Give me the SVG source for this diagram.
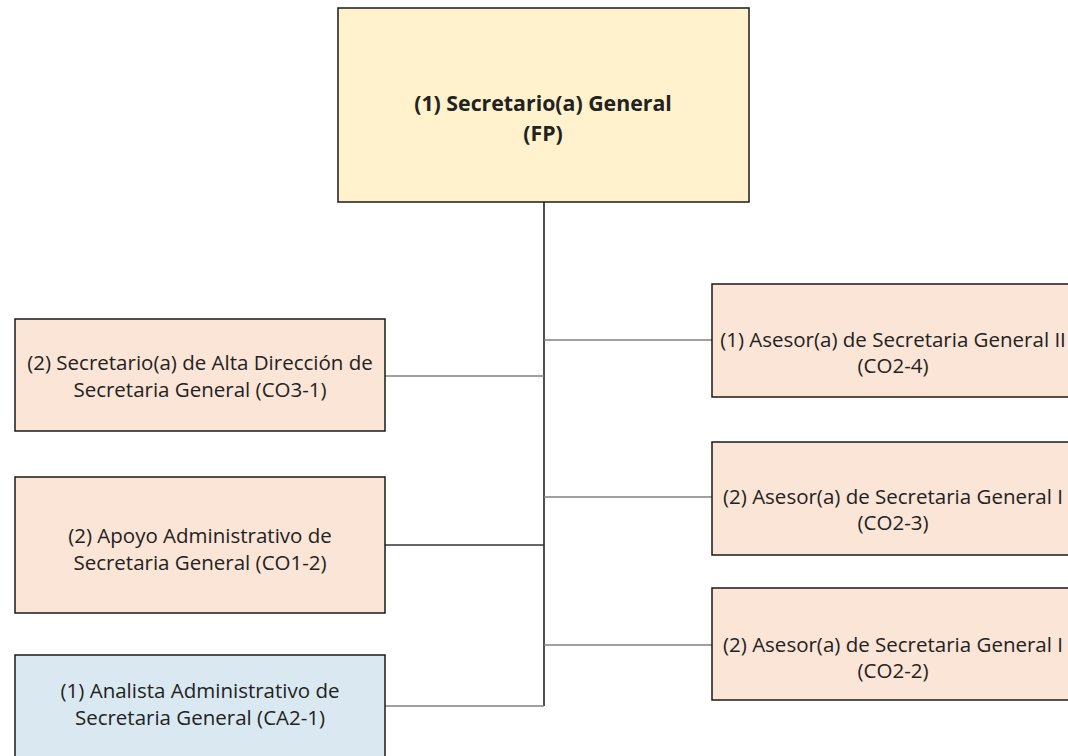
<svg xmlns="http://www.w3.org/2000/svg" width="1068" height="756" viewBox="0 0 1068 756">
<style>
.box{stroke:#1a1a1a;stroke-width:1.5}
.top{fill:#FFF2CC}
.peach{fill:#FBE5D6}
.blue{fill:#DAE9F1}
.t{font-family:"Open Sans","Liberation Sans",sans-serif;font-size:20.5px;fill:#222;text-anchor:middle}
.b{font-weight:bold;font-size:21.3px}
.trunk{stroke:#222;stroke-width:1.6;fill:none}
.conn{stroke:#808080;stroke-width:1.5;fill:none}
</style>
<rect width="1068" height="756" fill="#fff"/>
<g id="connectors">
<path class="trunk" d="M544 202 V706 H544"/>
<path class="conn" d="M385 376 H544"/>
<path class="conn" style="stroke:#333" d="M385 545 H544"/>
<path class="conn" d="M385 706 H544"/>
<path class="conn" d="M544 340 H712"/>
<path class="conn" d="M544 497 H712"/>
<path class="conn" d="M544 645 H712"/>
</g>
<g id="n-top">
<rect class="box top" x="338" y="8" width="411" height="194"/>
<text class="t b" x="543" y="111">(1) Secretario(a) General</text>
<text class="t b" x="543" y="141">(FP)</text>
</g>
<g id="n-l1">
<rect class="box peach" x="15" y="319" width="370" height="112"/>
<text class="t" x="200" y="370">(2) Secretario(a) de Alta Dirección de</text>
<text class="t" x="200" y="397">Secretaria General (CO3-1)</text>
</g>
<g id="n-l2">
<rect class="box peach" x="15" y="477" width="370" height="136"/>
<text class="t" x="200" y="543">(2) Apoyo Administrativo de</text>
<text class="t" x="200" y="570">Secretaria General (CO1-2)</text>
</g>
<g id="n-l3">
<rect class="box blue" x="15" y="655" width="370" height="110"/>
<text class="t" x="200" y="698">(1) Analista Administrativo de</text>
<text class="t" x="200" y="725">Secretaria General (CA2-1)</text>
</g>
<g id="n-r1">
<rect class="box peach" x="712" y="284" width="370" height="113"/>
<text class="t" x="893" y="347">(1) Asesor(a) de Secretaria General II</text>
<text class="t" x="893" y="373">(CO2-4)</text>
</g>
<g id="n-r2">
<rect class="box peach" x="712" y="442" width="370" height="113"/>
<text class="t" x="893" y="504">(2) Asesor(a) de Secretaria General I</text>
<text class="t" x="893" y="530">(CO2-3)</text>
</g>
<g id="n-r3">
<rect class="box peach" x="712" y="588" width="370" height="112"/>
<text class="t" x="893" y="652">(2) Asesor(a) de Secretaria General I</text>
<text class="t" x="893" y="678">(CO2-2)</text>
</g>
</svg>
